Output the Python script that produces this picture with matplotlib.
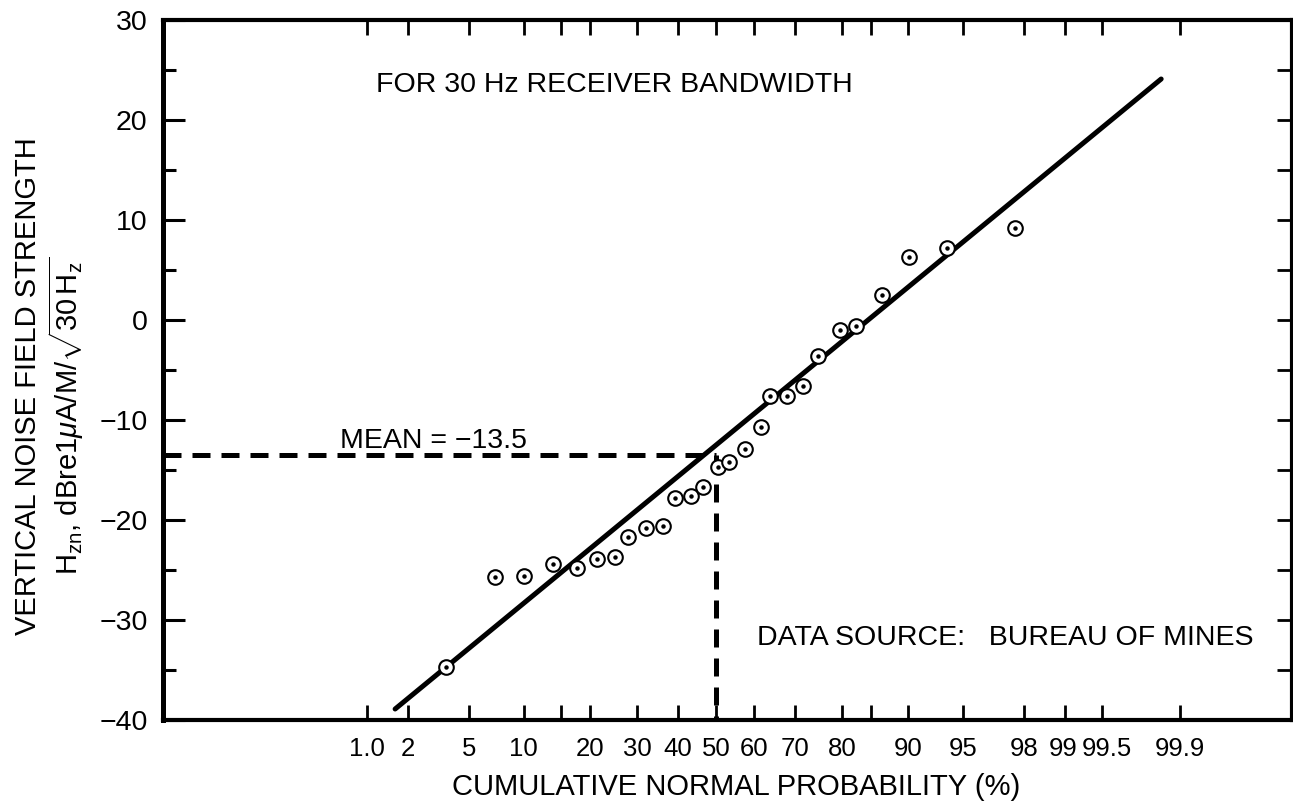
import numpy as np
import matplotlib
matplotlib.use("Agg")
import matplotlib.pyplot as plt
import matplotlib.transforms as mtransforms
from matplotlib.ticker import FixedLocator, FixedFormatter, NullFormatter
from statistics import NormalDist

# ---------------- data ----------------
prob_pct = [3.59, 7.04, 10.0, 13.85, 17.7, 21.4, 25.05, 27.9, 32.0, 36.2,
            39.2, 43.4, 46.5, 50.5, 53.5, 57.7, 61.8, 64.1, 68.2, 71.9,
            75.2, 79.6, 82.5, 86.6, 90.1, 93.8, 97.7]
noise_db = [-34.7, -25.7, -25.6, -24.4, -24.8, -23.9, -23.7, -21.7, -20.8, -20.6,
            -17.8, -17.6, -16.7, -14.7, -14.2, -12.9, -10.7, -7.6, -7.6, -6.6,
            -3.6, -1.0, -0.6, 2.5, 6.3, 7.2, 9.2]
fit_pct = [1.62, 99.85]
fit_db = [-38.9, 24.1]
mean_pct = 50.0
mean_db = -13.5

x_tick_values = [1.0, 2, 5, 10, 20, 30, 40, 50, 60, 70, 80, 90, 95, 98, 99, 99.5, 99.9]
x_tick_labels = ["1.0", "2", "5", "10", "20", "30", "40", "50", "60", "70", "80",
                 "90", "95", "98", "99", "99.5", "99.9"]
x_minor_values = [15, 85]
y_tick_values = [30, 20, 10, 0, -10, -20, -30, -40]
y_tick_labels = ["30", "20", "10", "0", "\u221210", "\u221220", "\u221230", "\u221240"]
y_minor_values = [25, 15, 5, -5, -15, -25, -35]
y_right_values = [25, 20, 15, 10, 5, 0, -5, -10, -15, -20, -25, -30, -35]

# ---------------- style ----------------
plt.rcParams["font.family"] = ["Liberation Sans", "DejaVu Sans"]
plt.rcParams["mathtext.fontset"] = "custom"
plt.rcParams["mathtext.rm"] = "Liberation Sans"
plt.rcParams["mathtext.it"] = "Liberation Sans:italic"
plt.rcParams["mathtext.bf"] = "Liberation Sans:bold"
NARROW = ["Liberation Sans Narrow", "Liberation Sans", "DejaVu Sans"]

_nd = NormalDist()


def _fwd(p):
    p = np.clip(np.asarray(p, dtype=float), 1e-7, 100 - 1e-7)
    return np.vectorize(lambda v: _nd.inv_cdf(v / 100.0), otypes=[float])(p)


def _inv(u):
    u = np.clip(np.asarray(u, dtype=float), -8, 8)
    return np.vectorize(lambda v: 100.0 * _nd.cdf(v), otypes=[float])(u)


W, H = 1293, 806
fig = plt.figure(figsize=(W / 100, H / 100), dpi=100)
ax = fig.add_axes([163 / W, 86 / H, 1129 / W, 700 / H])
ax.set_xscale("function", functions=(_fwd, _inv))
ax.set_xlim(100 * _nd.cdf(-3.687), 100 * _nd.cdf(3.84))
ax.set_ylim(-40, 30)

for s in ax.spines.values():
    s.set_linewidth(3.0)
ax.spines["left"].set_linewidth(3.6)

# x ticks
ax.set_xticks(x_tick_values, labels=x_tick_labels, fontfamily=NARROW, fontsize=18.5)
ax.xaxis.set_minor_locator(FixedLocator(x_minor_values))
ax.xaxis.set_minor_formatter(NullFormatter())
ax.tick_params(axis="x", which="both", direction="in", top=True, bottom=True,
               length=11, width=2.0, pad=12)
# nudge the crowded labels near the right end apart slightly
_nudge = {"99": -2, "99.5": 4}
for lbl in ax.get_xticklabels():
    dx = _nudge.get(lbl.get_text())
    if dx:
        lbl.set_transform(lbl.get_transform() +
                          mtransforms.ScaledTranslation(dx / 100, 0, fig.dpi_scale_trans))

# y ticks
ax.yaxis.set_major_locator(FixedLocator(y_tick_values))
ax.yaxis.set_major_formatter(FixedFormatter(y_tick_labels))
ax.yaxis.set_minor_locator(FixedLocator(y_minor_values))
ax.tick_params(axis="y", which="major", direction="in", left=True, right=False,
               length=16, width=2.2, pad=11, labelsize=20.5)
ax.tick_params(axis="y", which="minor", direction="in", left=True, right=False,
               length=9, width=2.2)

# right-hand ticks
ax2 = ax.twinx()
ax2.set_ylim(ax.get_ylim())
ax2.yaxis.set_major_locator(FixedLocator(y_right_values))
ax2.tick_params(axis="y", direction="in", length=11, width=2.0, labelright=False)
for s in ax2.spines.values():
    s.set_visible(False)

# fitted line
ax.plot(fit_pct, fit_db, color="black", lw=3.6, solid_capstyle="round", zorder=3)

# mean dashed lines
xl = ax.get_xlim()
ax.plot([xl[0], mean_pct], [mean_db, mean_db], color="black", lw=3.6,
        linestyle=(0, (3.6, 2.2)), zorder=3)
ax.plot([mean_pct, mean_pct], [mean_db, -40], color="black", lw=3.6,
        linestyle=(0, (3.6, 2.2)), zorder=3)
ax.set_xlim(xl)

# data points: circle with a dot
ax.plot(prob_pct, noise_db, linestyle="none", marker="o", markersize=10.5,
        markerfacecolor="white", markeredgecolor="black", markeredgewidth=1.5, zorder=4)
ax.plot(prob_pct, noise_db, linestyle="none", marker="o", markersize=2.2,
        markerfacecolor="black", markeredgecolor="black", zorder=5)

# texts
ax.text(0.1887, 0.897, "FOR 30 Hz RECEIVER BANDWIDTH", transform=ax.transAxes,
        fontsize=20.5, ha="left", va="baseline")
ax.text(0.1568, 0.3886, "MEAN = \u221213.5", transform=ax.transAxes,
        fontsize=20.5, ha="left", va="baseline")
ax.text(0.526, 0.107, "DATA SOURCE:   BUREAU OF MINES", transform=ax.transAxes,
        fontsize=20.5, ha="left", va="baseline")

ax.set_xlabel("CUMULATIVE NORMAL PROBABILITY (%)", fontsize=21)
ax.xaxis.set_label_coords(0.508, -0.0757)

fig.text(28 / W, 1 - 386 / H, "VERTICAL NOISE FIELD STRENGTH", rotation=90,
         fontsize=21, ha="center", va="center")
fig.text(66 / W, 1 - 416 / H,
         r"$\mathrm{H_{zn}}$, dBre1$\mu$A/M/$\sqrt{\mathrm{30\,H_z}}$",
         rotation=90, fontsize=21, ha="center", va="center")

fig.savefig("out.png", dpi=100, facecolor="white")
